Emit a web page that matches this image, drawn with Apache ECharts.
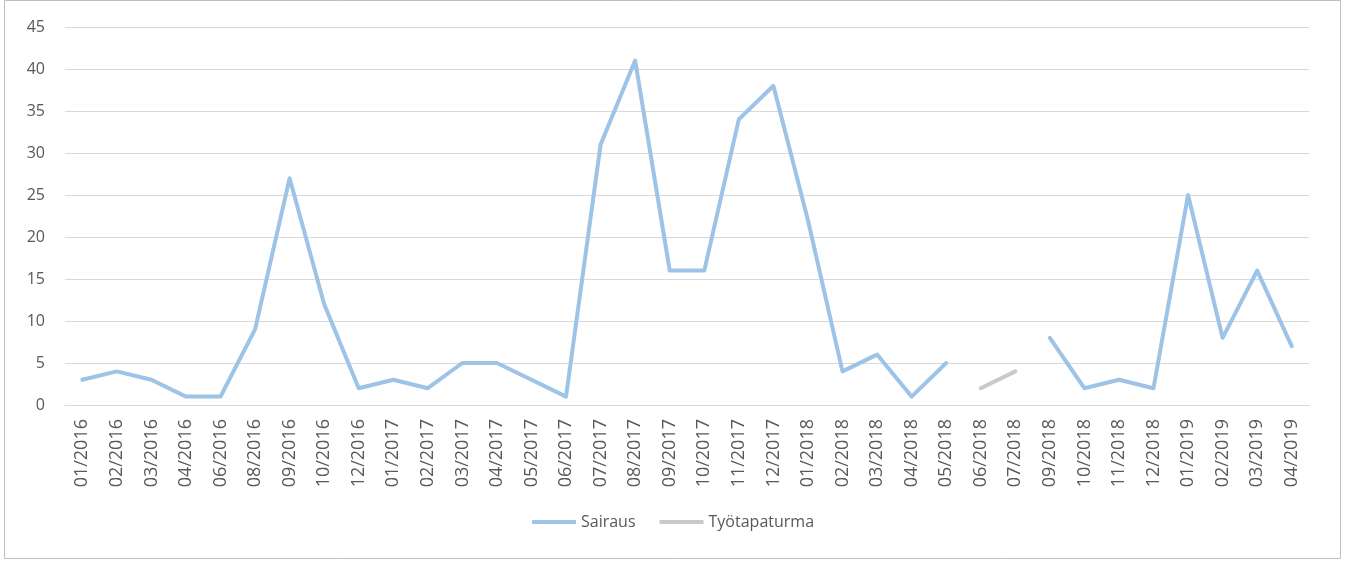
<!DOCTYPE html>
<html>
<head>
<meta charset="utf-8">
<script src="https://cdn.jsdelivr.net/npm/echarts@6/dist/echarts.min.js"></script>
<style>
  html, body { margin: 0; padding: 0; background: #fff; }
  #chart { width: 1346px; height: 563px; }
</style>
</head>
<body>
<div id="chart"></div>
<script>
const months = [
  "01/2016", "02/2016", "03/2016", "04/2016", "06/2016", "08/2016", "09/2016", "10/2016", "12/2016",
  "01/2017", "02/2017", "03/2017", "04/2017", "05/2017", "06/2017", "07/2017", "08/2017", "09/2017",
  "10/2017", "11/2017", "12/2017", "01/2018", "02/2018", "03/2018", "04/2018", "05/2018", "06/2018",
  "07/2018", "09/2018", "10/2018", "11/2018", "12/2018", "01/2019", "02/2019", "03/2019", "04/2019"
];
const sairaus = [
  3, 4, 3, 1, 1, 9, 27, 12, 2,
  3, 2, 5, 5, 3, 1, 31, 41, 16,
  16, 34, 38, 22, 4, 6, 1, 5, null,
  null, 8, 2, 3, 2, 25, 8, 16, 7
];
const tyotapaturma = [
  null, null, null, null, null, null, null, null, null,
  null, null, null, null, null, null, null, null, null,
  null, null, null, null, null, null, null, null, 2,
  4, null, null, null, null, null, null, null, null
];

const FONT = "'Open Sans', sans-serif";
const TXT = "#595959";

const chart = echarts.init(document.getElementById("chart"));
chart.setOption({
  animation: false,
  textStyle: { fontFamily: FONT },
  graphic: [{
    type: "rect",
    shape: { x: 4.5, y: 0.5, width: 1336, height: 558 },
    style: { fill: "none", stroke: "#bfbfbf", lineWidth: 1 },
    silent: true
  }],
  grid: { left: 65, right: 37, top: 27, bottom: 158 },
  legend: {
    bottom: 28,
    left: "center",
    icon: "rect",
    itemWidth: 44,
    itemHeight: 4,
    itemGap: 24,
    textStyle: { color: TXT, fontSize: 16, fontFamily: FONT },
    data: ["Sairaus", "Työtapaturma"]
  },
  xAxis: {
    type: "category",
    data: months,
    boundaryGap: true,
    axisLine: { lineStyle: { color: "#d9d9d9", width: 1 } },
    axisTick: { show: false },
    axisLabel: {
      rotate: 90,
      interval: 0,
      margin: 14,
      color: TXT,
      fontSize: 18,
      fontFamily: FONT
    }
  },
  yAxis: {
    type: "value",
    min: 0,
    max: 45,
    interval: 5,
    axisLine: { show: false },
    axisTick: { show: false },
    splitLine: { lineStyle: { color: "#d9d9d9", width: 1 } },
    axisLabel: { color: TXT, fontSize: 16, margin: 20, fontFamily: FONT }
  },
  series: [
    {
      name: "Sairaus",
      type: "line",
      data: sairaus,
      connectNulls: false,
      showSymbol: false,
      symbol: "none",
      lineStyle: { color: "#9dc3e6", width: 4, join: "round", cap: "round" },
      itemStyle: { color: "#9dc3e6" }
    },
    {
      name: "Työtapaturma",
      type: "line",
      data: tyotapaturma,
      connectNulls: false,
      showSymbol: false,
      symbol: "none",
      lineStyle: { color: "#c9c9c9", width: 4, join: "round", cap: "round" },
      itemStyle: { color: "#c9c9c9" }
    }
  ]
});
window.addEventListener("resize", () => chart.resize());
</script>
</body>
</html>
